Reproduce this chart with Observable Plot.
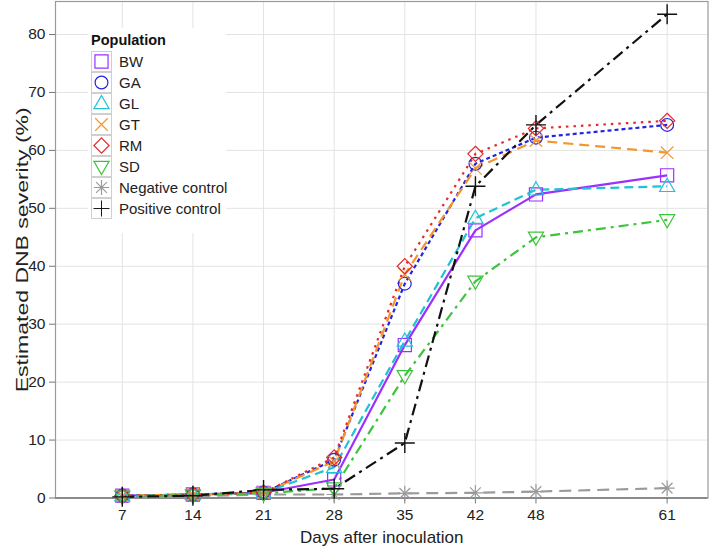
<!DOCTYPE html>
<html><head><meta charset="utf-8">
<script src="https://cdn.jsdelivr.net/npm/d3@7"></script>
<script src="https://cdn.jsdelivr.net/npm/@observablehq/plot@0.6"></script>
<style>
body{margin:0;background:#fff;font-family:"Liberation Sans",Arial,sans-serif}
#wrap{position:relative;width:709px;height:549px}
#legend{position:absolute;left:88px;top:28px;width:138px;height:205px;background:#fff;}
#legend .title{position:absolute;left:3px;top:4px;font-weight:bold;font-size:14.5px;color:#111}
#legend .row{position:absolute;left:3px;height:21px;width:135px}
#legend .row svg{position:absolute;left:0;top:0;width:21px;height:21px}
#legend .row span{position:absolute;left:28px;top:2px;font-size:15px;color:#222;white-space:nowrap}
</style>
</head><body><div id="wrap"></div>
<script>
// ---- data ----
const days = [7, 14, 21, 28, 35, 42, 48, 61];
const seriesNames = ["BW", "GA", "GL", "GT", "RM", "SD", "Negative control", "Positive control"];
const BW  = [0.4, 0.6, 0.9, 3.2, 26.4, 46.2, 52.4, 55.7];
const GA  = [0.4, 0.6, 0.9, 6.6, 37.0, 57.7, 62.2, 64.4];
const GL  = [0.4, 0.6, 0.9, 5.3, 27.1, 48.3, 53.2, 53.8];
const GT  = [0.4, 0.6, 0.9, 6.3, 38.6, 56.9, 61.7, 59.6];
const RM  = [0.4, 0.6, 0.9, 7.0, 40.0, 59.4, 63.8, 65.1];
const SD  = [0.3, 0.5, 0.8, 1.7, 21.1, 37.4, 45.0, 48.0];
const NEG = [0.1, 0.3, 0.6, 0.6, 0.8, 0.9, 1.1, 1.7];
const POS = [0.2, 0.4, 1.4, 1.6, 9.5, 53.8, 64.4, 83.5];
const yTicks = [0, 10, 20, 30, 40, 50, 60, 70, 80];

const values = [BW, GA, GL, GT, RM, SD, NEG, POS];
const colors = ["#9b30ff", "#2323e0", "#1fc3d3", "#f4962c", "#e62a2a", "#3cc43c", "#9a9a9a", "#111111"];
const dashes = ["none", "4,3", "9,5", "10,6", "2.5,5", "10,5,3,5", "12,7", "12,5,3,5"];

// ---- symbols ----
function mk(fn) { return { draw(ctx, size) { fn(ctx, Math.sqrt(size / Math.PI)); } }; }
const symSquare = mk((c, r) => { const h = r * 0.82; c.rect(-h, -h, 2 * h, 2 * h); });
const symCircle = mk((c, r) => { const a = r * 0.8; c.moveTo(a, 0); c.arc(0, 0, a, 0, 2 * Math.PI); c.closePath(); });
const symTriUp = mk((c, r) => { c.moveTo(0, -r); c.lineTo(r * 0.95, r * 0.65); c.lineTo(-r * 0.95, r * 0.65); c.closePath(); });
const symTriDown = mk((c, r) => { c.moveTo(0, r); c.lineTo(r * 0.95, -r * 0.65); c.lineTo(-r * 0.95, -r * 0.65); c.closePath(); });
const symTimes = mk((c, r) => { const a = r * 0.78; c.moveTo(-a, -a); c.lineTo(a, a); c.moveTo(-a, a); c.lineTo(a, -a); });
const symDiamond = mk((c, r) => { const a = r * 0.95; c.moveTo(0, -a); c.lineTo(a, 0); c.lineTo(0, a); c.lineTo(-a, 0); c.closePath(); });
const symAster = mk((c, r) => { const a = r * 0.95, d = a * Math.SQRT1_2; c.moveTo(-a, 0); c.lineTo(a, 0); c.moveTo(0, -a); c.lineTo(0, a); c.moveTo(-d, -d); c.lineTo(d, d); c.moveTo(-d, d); c.lineTo(d, -d); });
const symPlus = mk((c, r) => { const a = r * 1.25; c.moveTo(-a, 0); c.lineTo(a, 0); c.moveTo(0, -a); c.lineTo(0, a); });
const symbols = [symSquare, symCircle, symTriUp, symTimes, symDiamond, symTriDown, symAster, symPlus];

const rows = [];
seriesNames.forEach((s, i) => days.forEach((d, j) => rows.push({ series: s, day: d, value: values[i][j], idx: i })));

const yTitle = "Estimated DNB severity (%)";
const xTitle = "Days after inoculation";
const marks = [
  Plot.gridY(yTicks, { stroke: "#e3e3e3", strokeOpacity: 1 }),
  Plot.gridX(days, { stroke: "#e3e3e3", strokeOpacity: 1 }),
  Plot.frame({ stroke: "#9a9a9a", strokeWidth: 1.2 }),
  Plot.ruleY([0], { stroke: "#7a7a7a", strokeWidth: 1.6 }),
  Plot.axisY(yTicks, { tickSize: 6, tickPadding: 4, stroke: "#777", fill: "#222", label: null, fontSize: 15.5 }),
  Plot.axisX(days, { tickSize: 6, tickPadding: 5, stroke: "#777", fill: "#222", label: null, fontSize: 15.5 }),
  Plot.text([yTitle], { frameAnchor: "left", dx: -33, rotate: -90, fontSize: 17, fill: "#222", textAnchor: "middle", lineAnchor: "middle" }),
  Plot.text([xTitle], { frameAnchor: "bottom", dy: 40, fontSize: 17, fill: "#222", textAnchor: "middle", lineAnchor: "middle" })
];
const order = [6, 0, 1, 2, 3, 4, 5, 7];
for (const i of order) {
  marks.push(Plot.line(rows.filter(r => r.idx === i), { x: "day", y: "value", stroke: colors[i], strokeWidth: 2.2, strokeDasharray: dashes[i], strokeLinecap: "butt" }));
}
for (const i of order) {
  marks.push(Plot.dot(rows.filter(r => r.idx === i), { x: "day", y: "value", symbol: symbols[i], r: 8, stroke: colors[i], fill: "none", strokeWidth: i === 7 ? 1.4 : 1.2 }));
}

const chart = Plot.plot({
  width: 709, height: 549,
  marginLeft: 55, marginRight: 1.5, marginTop: 1, marginBottom: 51.5,
  x: { domain: [0.38, 65.05], axis: null },
  y: { domain: [0, 85.7], axis: null },
  style: { fontFamily: "Liberation Sans, Arial, sans-serif", background: "#fff", overflow: "visible" },
  marks
});
// the reference's rotated title is elongated; stretch it to the measured length
chart.querySelectorAll("text").forEach(t => {
  if (t.textContent === yTitle) { t.setAttribute("textLength", "285"); t.setAttribute("lengthAdjust", "spacingAndGlyphs"); }
});
const wrap = document.getElementById("wrap");
wrap.appendChild(chart);

// ---- legend ----
const lg = document.createElement("div");
lg.id = "legend";
lg.innerHTML = '<div class="title">Population</div>';
seriesNames.forEach((s, i) => {
  const row = document.createElement("div");
  row.className = "row";
  row.style.top = (22.5 + 21 * i) + "px";
  const p = d3.path();
  symbols[i].draw(p, Math.PI * 64);
  row.innerHTML = `<svg viewBox="-10.5 -10.5 21 21"><rect x="-10" y="-10" width="20" height="20" fill="#fff" stroke="#cfcfcf"/><path d="${p}" fill="none" stroke="${colors[i]}" stroke-width="1.2" transform="scale(${i===7?0.8:1})"/></svg><span>${s}</span>`;
  lg.appendChild(row);
});
wrap.appendChild(lg);
</script>
</body></html>
